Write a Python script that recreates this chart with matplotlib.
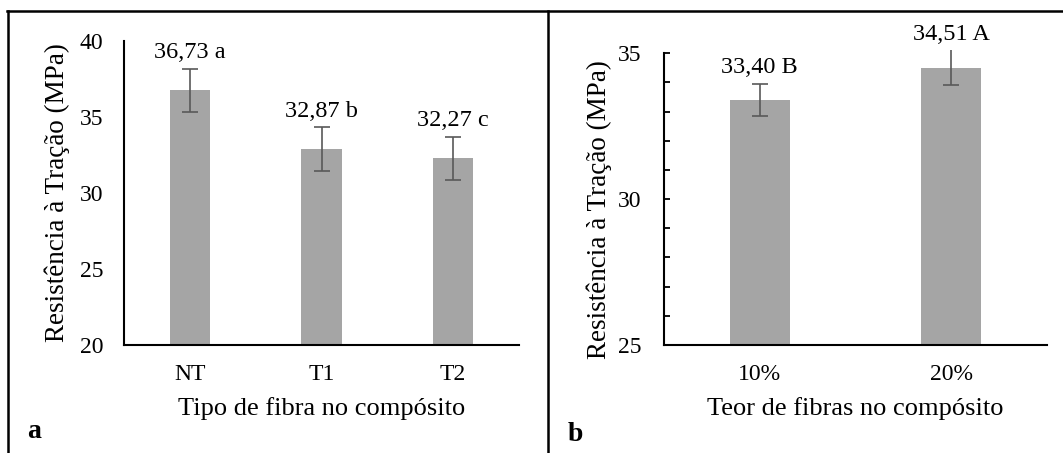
import matplotlib
matplotlib.use("Agg")
import matplotlib.pyplot as plt
from matplotlib.lines import Line2D
from matplotlib.ticker import MultipleLocator

plt.rcParams['font.family'] = ['Liberation Serif', 'DejaVu Serif']

# panel a
tipos = ['NT', 'T1', 'T2']
tipo_media = [36.73, 32.87, 32.27]
tipo_erro = [1.43, 1.43, 1.43]
tipo_rotulo = ['36,73 a', '32,87 b', '32,27 c']

# panel b
teores = ['10%', '20%']
teor_media = [33.40, 34.51]
teor_erro = [0.56, 0.60]
teor_rotulo = ['33,40 B', '34,51 A']

bar_color = '#a5a5a5'
err_color = '#595959'
W, H = 1063, 453

fig = plt.figure(figsize=(W / 100, H / 100), dpi=100)


def box(x0, y0, x1, y1):
    # pixel coords (top-left origin) -> figure fraction
    return [x0 / W, 1 - y1 / H, (x1 - x0) / W, (y1 - y0) / H]


ax1 = fig.add_axes(box(124, 40.7, 519, 345))
ax2 = fig.add_axes(box(664, 53.3, 1047, 345))


def draw(ax, cats, media, erro, rotulos, width, ylim, ylabel, xlabel, ylab_xy, xlab_y):
    x = list(range(len(cats)))
    ax.bar(x, media, width=width, color=bar_color, zorder=2)
    _, caps, bars = ax.errorbar(x, media, yerr=erro, fmt='none', ecolor=err_color,
                                elinewidth=1.2, capsize=6, capthick=1.2, zorder=3)
    for b in bars:
        b.set_clip_on(False)
    for i in x:
        ax.annotate(rotulos[i], (i, media[i] + erro[i]), xytext=(0, 7.5),
                    textcoords='offset points', ha='center', va='baseline',
                    fontsize=17.5, annotation_clip=False)
    ax.set_xlim(-0.5, len(cats) - 0.5)
    ax.set_ylim(*ylim)
    ax.set_xticks(x)
    ax.set_xticklabels(cats)
    for s in ['top', 'right']:
        ax.spines[s].set_visible(False)
    for s in ['left', 'bottom']:
        ax.spines[s].set_linewidth(1.5)
    ax.tick_params(axis='x', length=0, pad=14, labelsize=17)
    ax.set_ylabel(ylabel, fontsize=19.5)
    ax.set_xlabel(xlabel, fontsize=19)
    ax.yaxis.set_label_coords(*ylab_xy)
    ax.xaxis.set_label_coords(0.5, xlab_y)


draw(ax1, tipos, tipo_media, tipo_erro, tipo_rotulo, 0.304, (20, 40),
     'Resistência à Tração (MPa)', 'Tipo de fibra no compósito', (-0.136, 0.5), -0.17)
ax1.yaxis.set_major_locator(MultipleLocator(5))
ax1.tick_params(axis='y', length=0, pad=15, labelsize=17)

draw(ax2, teores, teor_media, teor_erro, teor_rotulo, 0.314, (25, 35),
     'Resistência à Tração (MPa)', 'Teor de fibras no compósito', (-0.136, 0.466), -0.177)
ax2.yaxis.set_major_locator(MultipleLocator(5))
ax2.yaxis.set_minor_locator(MultipleLocator(1))
ax2.tick_params(axis='y', which='both', direction='in', length=4.3, width=1.3,
                pad=16, labelsize=17)

# panel frames
lw = 1.8
fig.add_artist(Line2D([7 / W, 1], [1 - 11 / H] * 2, color='black', lw=lw))
fig.add_artist(Line2D([7.5 / W] * 2, [0, 1 - 11 / H], color='black', lw=lw))
fig.add_artist(Line2D([547.5 / W] * 2, [0, 1 - 11 / H], color='black', lw=lw))

fig.text(27 / W, 1 - 438 / H, 'a', fontsize=20, fontweight='bold', va='baseline')
fig.text(568 / W, 1 - 441 / H, 'b', fontsize=20, fontweight='bold', va='baseline')

fig.savefig('out.png', dpi=100)
